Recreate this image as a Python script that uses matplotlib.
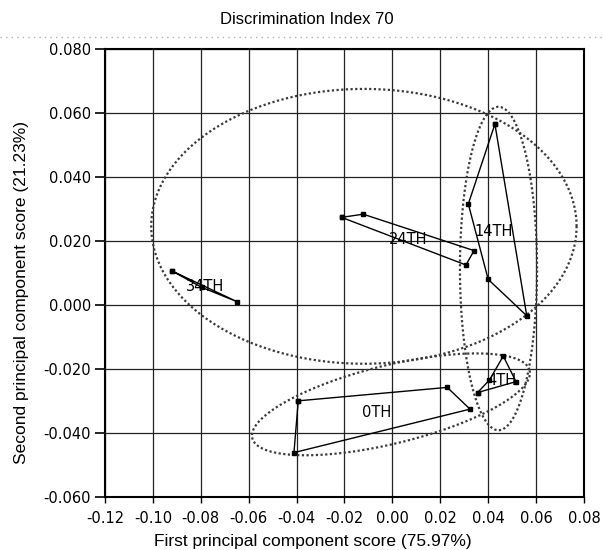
import numpy as np
import matplotlib
matplotlib.use("Agg")
import matplotlib.pyplot as plt
from matplotlib.lines import Line2D

# group outlines (score points)
GROUPS = ["14TH", "24TH", "34TH", "0TH", "4TH"]
PC1_14TH = [0.0428, 0.0317, 0.0400, 0.0561]
PC2_14TH = [0.0566, 0.0316, 0.0080, -0.0034]
PC1_24TH = [-0.0212, -0.0122, 0.0341, 0.0307]
PC2_24TH = [0.0274, 0.0284, 0.0170, 0.0125]
PC1_34TH = [-0.0922, -0.0796, -0.0648]
PC2_34TH = [0.0107, 0.0055, 0.0010]
PC1_0TH = [-0.0393, 0.0229, 0.0324, -0.0411]
PC2_0TH = [-0.0300, -0.0258, -0.0326, -0.0462]
PC1_4TH = [0.0356, 0.0405, 0.0463, 0.0516]
PC2_4TH = [-0.0274, -0.0235, -0.0160, -0.0240]

LABEL_X = [0.0421, 0.0066, -0.0782, -0.0066, 0.0456]
LABEL_Y = [0.0229, 0.0205, 0.0057, -0.0337, -0.0235]

# confidence ellipses: centre, first and second half-axis vectors (data units)
ELLIPSE_CENTERS = [(-0.0119, 0.0246), (0.0443, 0.0114), (-0.0006, -0.0311)]
ELLIPSE_AXIS_U = [(0.0888, 0.0), (0.0161, 0.0), (0.0579, 0.0106)]
ELLIPSE_AXIS_V = [(0.0, 0.0430), (0.0, 0.0506), (0.0039, -0.0119)]

X_TICKS = [-0.12, -0.10, -0.08, -0.06, -0.04, -0.02, 0.00, 0.02, 0.04, 0.06, 0.08]
Y_TICKS = [-0.060, -0.040, -0.020, 0.000, 0.020, 0.040, 0.060, 0.080]

NARROW = ["Liberation Sans Narrow", "DejaVu Sans"]
REGULAR = ["Liberation Sans", "DejaVu Sans"]


def ellipse_xy(center, u, v, n=400):
    t = np.linspace(0, 2 * np.pi, n)
    x = center[0] + u[0] * np.cos(t) + v[0] * np.sin(t)
    y = center[1] + u[1] * np.cos(t) + v[1] * np.sin(t)
    return x, y


fig = plt.figure(figsize=(6.03, 5.50), dpi=100)
ax = fig.add_axes([0.1741, 0.0969, 0.7944, 0.8135])

ax.set_xlim(-0.12, 0.08)
ax.set_ylim(-0.060, 0.080)
ax.set_xticks(X_TICKS)
ax.set_yticks(Y_TICKS)
ax.set_xticklabels([f"{v:.2f}" for v in X_TICKS], family=NARROW, fontsize=10.5)
ax.set_yticklabels([f"{v:.3f}" for v in Y_TICKS], family=NARROW, fontsize=10.5)
ax.tick_params(axis="x", length=4, width=1, pad=6, direction="out")
ax.tick_params(axis="y", length=7, width=1.2, pad=3, direction="out")
ax.grid(True, color="#222222", linewidth=0.9)
ax.set_axisbelow(True)
for sp in ax.spines.values():
    sp.set_linewidth(1.5)
    sp.set_color("black")

for c, u, v in zip(ELLIPSE_CENTERS, ELLIPSE_AXIS_U, ELLIPSE_AXIS_V):
    ex, ey = ellipse_xy(c, u, v)
    ax.plot(ex, ey, color="#3a3a3a", linewidth=1.6, linestyle=(0, (1, 1.1)), zorder=3)

outlines = [
    (PC1_14TH, PC2_14TH),
    (PC1_24TH, PC2_24TH),
    (PC1_34TH, PC2_34TH),
    (PC1_0TH, PC2_0TH),
    (PC1_4TH, PC2_4TH),
]
for xs, ys in outlines:
    xs = list(xs) + [xs[0]]
    ys = list(ys) + [ys[0]]
    ax.plot(xs, ys, color="black", linewidth=1.0, marker="s", markersize=3, zorder=4)

for name, lx, ly in zip(GROUPS, LABEL_X, LABEL_Y):
    ax.text(lx, ly, name, ha="center", va="center", fontsize=10.5,
            family=NARROW, color="black", zorder=5)

fig.text(0.509, 0.964, "Discrimination Index 70", ha="center", va="center",
         fontsize=12, family=REGULAR)
fig.text(0.518, 0.016, "First principal component score (75.97%)", ha="center",
         va="center", fontsize=12.5, family=REGULAR)
fig.text(0.035, 0.469, "Second principal component score (21.23%)", ha="center",
         va="center", rotation=90, fontsize=12.5, family=REGULAR)

# faint dotted frame line above the plot
fig.add_artist(Line2D([0.0, 1.0], [0.933, 0.933], transform=fig.transFigure,
                      color="#b0b0b0", linewidth=1.0, linestyle=(0, (1, 3))))

fig.savefig("out.png", dpi=100)
